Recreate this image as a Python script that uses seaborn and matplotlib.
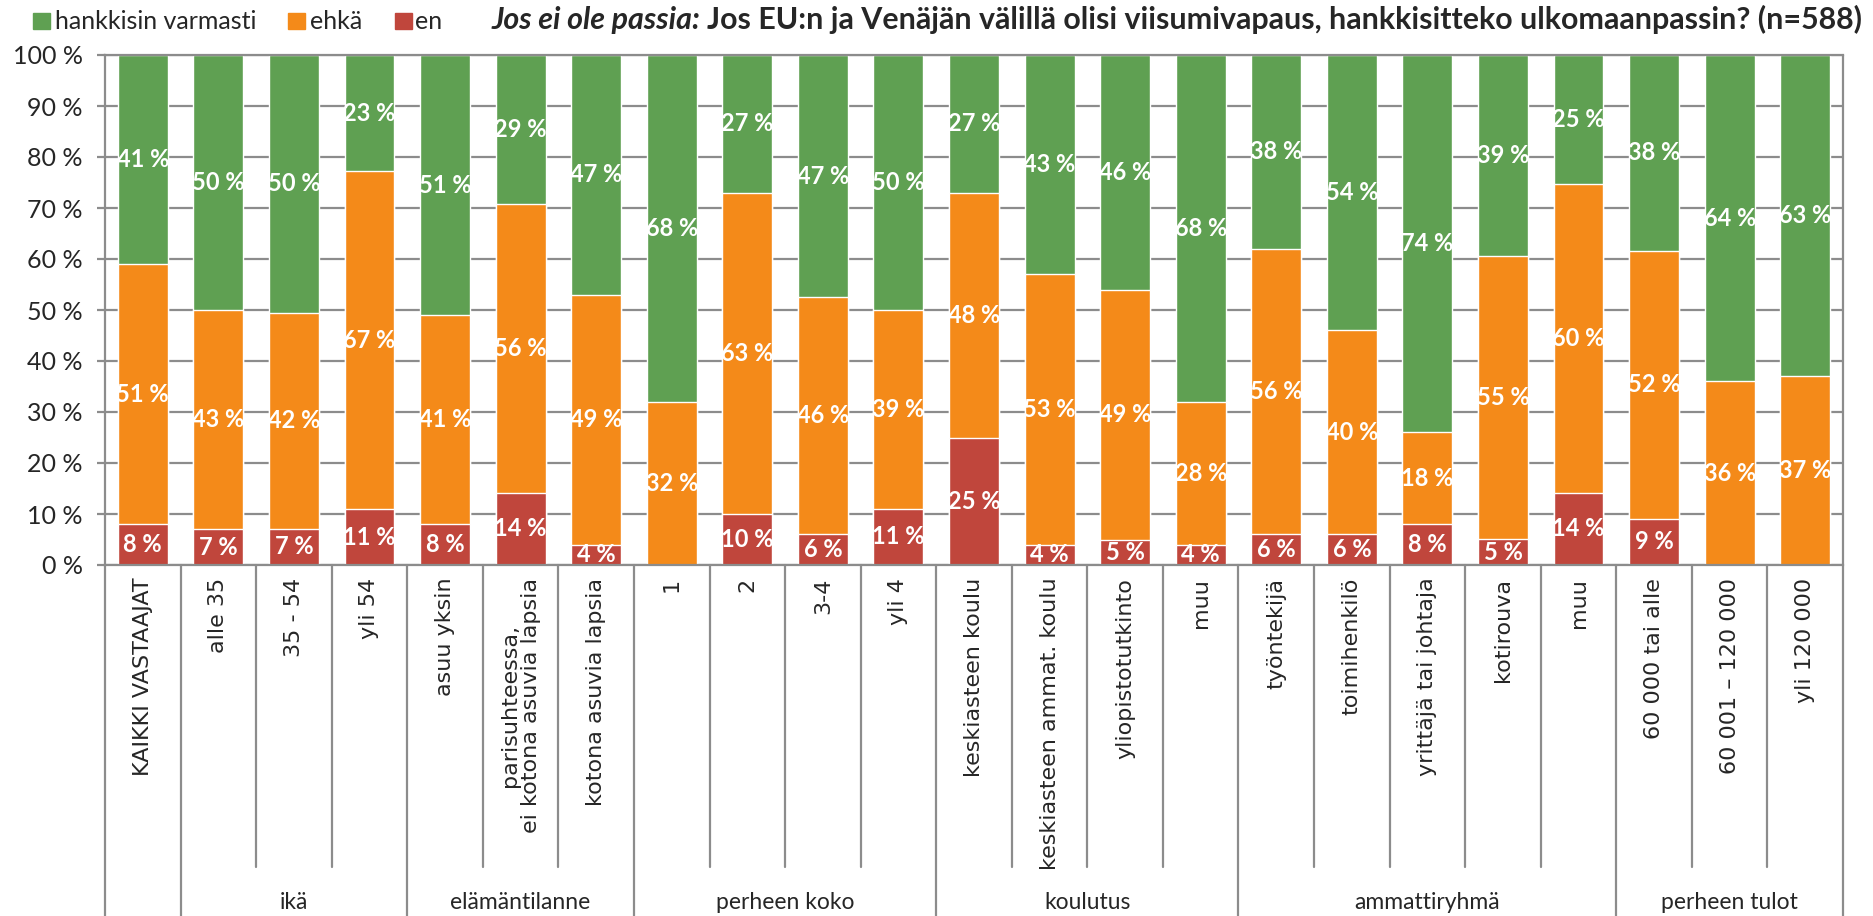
# === Librerías ===
import numpy as np
import pandas as pd
import matplotlib
matplotlib.use("Agg")
import matplotlib.pyplot as plt
import matplotlib.transforms as mtransforms
import matplotlib.font_manager as fm
from matplotlib.patches import Rectangle
import seaborn as sns

# === Datos ===
kategoriat = ["KAIKKI VASTAAJAT", "alle 35", "35 - 54", "yli 54",
              "asuu yksin", "parisuhteessa,\nei kotona asuvia lapsia", "kotona asuvia lapsia",
              "1", "2", "3-4", "yli 4",
              "keskiasteen koulu", "keskiasteen ammat. koulu", "yliopistotutkinto", "muu",
              "työntekijä", "toimihenkilö", "yrittäjä tai johtaja", "kotirouva", "muu",
              "60 000 tai alle", "60 001 – 120 000", "yli 120 000"]
en = [8, 7, 7, 11, 8, 14, 4, 0, 10, 6, 11, 25, 4, 5, 4, 6, 6, 8, 5, 14, 9, 0, 0]
ehka = [51, 43, 42, 67, 41, 56, 49, 32, 63, 46, 39, 48, 53, 49, 28, 56, 40, 18, 55, 60, 52, 36, 37]
varmasti = [41, 50, 50, 23, 51, 29, 47, 68, 27, 47, 50, 27, 43, 46, 68, 38, 54, 74, 39, 25, 38, 64, 63]
ryhmat = ["", "ikä", "elämäntilanne", "perheen koko", "koulutus", "ammattiryhmä", "perheen tulot"]
ryhma_koot = [1, 3, 3, 4, 4, 5, 3]
sarjat = ["hankkisin varmasti", "ehkä", "en"]
otsikko_kursiivi = "Jos ei ole passia:"
otsikko = "Jos EU:n ja Venäjän välillä olisi viisumivapaus, hankkisitteko ulkomaanpassin? (n=588)"

# === Colores / fuentes ===
VIHREA = "#5fa052"
ORANSSI = "#f48a19"
PUNAINEN = "#c0463c"
HARMAA = "#8c8c8c"
FONT = ["Lato", "Open Sans", "DejaVu Sans"]

sns.set_theme(style="white")
plt.rcParams["font.family"] = FONT
dejavu = fm.FontProperties(fname=fm.findfont(fm.FontProperties(family="DejaVu Sans")), size=16)

# 100 % pinottu: normalisoidaan kuten Excel
df = pd.DataFrame({"id": range(len(kategoriat)), "en": en, "ehka": ehka, "varmasti": varmasti})
summa = df["en"] + df["ehka"] + df["varmasti"]
df["p_en"] = df["en"] / summa * 100
df["p_ehka"] = df["ehka"] / summa * 100
df["p_var"] = df["varmasti"] / summa * 100
df["kum_ehka"] = df["p_en"] + df["p_ehka"]
df["kum_var"] = df["kum_ehka"] + df["p_var"]

W, H = 1874, 916
fig = plt.figure(figsize=(W / 100, H / 100), dpi=100)
ax = fig.add_axes([105 / W, 1 - 565 / H, 1738 / W, 510 / H])

leveys = 0.66
sns.barplot(data=df, x="id", y="kum_var", color=VIHREA, saturation=1, width=leveys,
            errorbar=None, ax=ax, zorder=2)
sns.barplot(data=df, x="id", y="kum_ehka", color=ORANSSI, saturation=1, width=leveys,
            errorbar=None, ax=ax, zorder=2)
sns.barplot(data=df, x="id", y="p_en", color=PUNAINEN, saturation=1, width=leveys,
            errorbar=None, ax=ax, zorder=2)

# === Etiquetas de datos ===
for i, r in df.iterrows():
    for arvo, ala, korkeus in [(r["en"], 0, r["p_en"]),
                               (r["ehka"], r["p_en"], r["p_ehka"]),
                               (r["varmasti"], r["kum_ehka"], r["p_var"])]:
        if arvo == 0:
            continue
        ax.text(i, ala + korkeus / 2, f"{int(arvo)} %", ha="center", va="center",
                color="white", fontsize=17, fontweight="bold", zorder=5)

# === Ejes ===
ax.set_xlim(-0.5, len(kategoriat) - 0.5)
ax.set_ylim(0, 100)
ax.set_yticks(np.arange(0, 101, 10))
ax.set_yticklabels([f"{v} %" for v in range(0, 101, 10)], fontsize=18)
ax.yaxis.grid(True, color=HARMAA, linewidth=1.6, zorder=0)
ax.set_axisbelow(True)
ax.tick_params(axis="y", length=6, width=1.6, color=HARMAA, pad=10, left=True)
ax.set_xticks([])
ax.set_xlabel("")
ax.set_ylabel("")
for s in ["left", "bottom", "top"]:
    ax.spines[s].set_color(HARMAA)
    ax.spines[s].set_linewidth(1.6)
ax.spines["right"].set_visible(False)

# === Categorías, separadores y grupos ===
trans = mtransforms.blended_transform_factory(ax.transData, ax.transAxes)
for i, nimi in enumerate(kategoriat):
    ax.text(i, -0.025, nimi, transform=trans, rotation=90, ha="center", va="top",
            ma="center", fontproperties=dejavu, linespacing=1.1)

rajat = np.cumsum([0] + ryhma_koot)
for x in range(len(kategoriat) + 1):
    pitka = x in rajat
    y_ala = -0.69 if pitka else -0.592
    y_yla = 1.0 if x == len(kategoriat) else 0
    ax.plot([x - 0.5, x - 0.5], [y_ala, y_yla], color=HARMAA, lw=1.6,
            transform=trans, clip_on=False, zorder=3)
for nimi, a, b in zip(ryhmat, rajat[:-1], rajat[1:]):
    ax.text((a + b - 1) / 2, -0.661, nimi, transform=trans, ha="center", va="center",
            fontsize=16.5)

# === Leyenda (manual) ===
perusviiva = 1 - 29 / H
for vari, nimi, x_nelio, x_teksti in zip([VIHREA, ORANSSI, PUNAINEN], sarjat,
                                         [33, 288, 395], [55, 310, 415]):
    fig.patches.append(Rectangle((x_nelio / W, 1 - 29 / H), 17 / W, 16 / H, color=vari,
                                 transform=fig.transFigure, figure=fig))
    fig.text(x_teksti / W, perusviiva, nimi, ha="left", va="baseline", fontsize=18)

# === Título: ajustado entre x=492 y x=1866 ===
renderer = fig.canvas.get_renderer()
koko = 18
t1 = fig.text(492 / W, perusviiva, otsikko_kursiivi + " ", ha="left", va="baseline",
              fontsize=koko, fontweight="bold", fontstyle="italic")
t2 = fig.text(0, perusviiva, otsikko, ha="left", va="baseline", fontsize=koko,
              fontweight="bold")
leveys_yht = (t1.get_window_extent(renderer).width + t2.get_window_extent(renderer).width)
koko = koko * (1866 - 492) / leveys_yht
t1.set_fontsize(koko)
t2.set_fontsize(koko)
t2.set_x(t1.get_window_extent(renderer).x1 / W)

plt.savefig("out.png", dpi=100)
